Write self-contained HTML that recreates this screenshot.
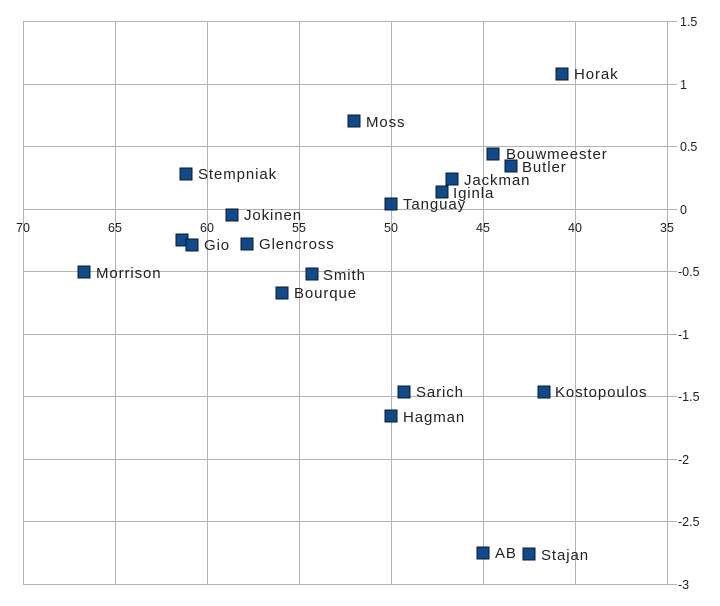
<!DOCTYPE html>
<html><head><meta charset="utf-8"><style>
html,body{margin:0;padding:0;background:#fff;}
svg{display:block;font-family:"Liberation Sans",sans-serif;}
.l{font-size:15px;fill:#222;letter-spacing:0.9px;}
.t{font-size:12.5px;fill:#222;}
</style></head><body>
<svg width="720" height="606" viewBox="0 0 720 606">
<g stroke="#b3b3b3" stroke-width="1" fill="none">
<line x1="23" y1="21.5" x2="677" y2="21.5"/>
<line x1="23" y1="84.5" x2="677" y2="84.5"/>
<line x1="23" y1="146.5" x2="677" y2="146.5"/>
<line x1="23" y1="209.5" x2="677" y2="209.5"/>
<line x1="23" y1="271.5" x2="677" y2="271.5"/>
<line x1="23" y1="334.5" x2="677" y2="334.5"/>
<line x1="23" y1="396.5" x2="677" y2="396.5"/>
<line x1="23" y1="459.5" x2="677" y2="459.5"/>
<line x1="23" y1="521.5" x2="677" y2="521.5"/>
<line x1="23" y1="584.5" x2="677" y2="584.5"/>
<line x1="23.5" y1="21" x2="23.5" y2="585"/>
<line x1="115.5" y1="21" x2="115.5" y2="585"/>
<line x1="207.5" y1="21" x2="207.5" y2="585"/>
<line x1="299.5" y1="21" x2="299.5" y2="585"/>
<line x1="391.5" y1="21" x2="391.5" y2="585"/>
<line x1="483.5" y1="21" x2="483.5" y2="585"/>
<line x1="575.5" y1="21" x2="575.5" y2="585"/>
<line x1="667.5" y1="21" x2="667.5" y2="585"/>
</g>
<g class="t">
<text x="680" y="26">1.5</text>
<text x="680" y="89">1</text>
<text x="680" y="151">0.5</text>
<text x="680" y="214">0</text>
<text x="678" y="276">-0.5</text>
<text x="678" y="339">-1</text>
<text x="678" y="401">-1.5</text>
<text x="678" y="464">-2</text>
<text x="678" y="526">-2.5</text>
<text x="678" y="589">-3</text>
</g>
<g class="t" text-anchor="middle">
<text x="23" y="232">70</text>
<text x="115" y="232">65</text>
<text x="207" y="232">60</text>
<text x="299" y="232">55</text>
<text x="391" y="232">50</text>
<text x="483" y="232">45</text>
<text x="575" y="232">40</text>
<text x="667" y="232">35</text>
</g>
<g fill="#0e4a8c" stroke="#0a1a30" stroke-width="1">
<rect x="556" y="68" width="12" height="12"/>
<rect x="348" y="115" width="12" height="12"/>
<rect x="487" y="148" width="12" height="12"/>
<rect x="505" y="160" width="12" height="12"/>
<rect x="446" y="173" width="12" height="12"/>
<rect x="436" y="186" width="12" height="12"/>
<rect x="180" y="168" width="12" height="12"/>
<rect x="385" y="198" width="12" height="12"/>
<rect x="226" y="209" width="12" height="12"/>
<rect x="176" y="234" width="12" height="12"/>
<rect x="186" y="239" width="12" height="12"/>
<rect x="241" y="238" width="12" height="12"/>
<rect x="78" y="266" width="12" height="12"/>
<rect x="306" y="268" width="12" height="12"/>
<rect x="276" y="287" width="12" height="12"/>
<rect x="398" y="386" width="12" height="12"/>
<rect x="538" y="386" width="12" height="12"/>
<rect x="385" y="410" width="12" height="12"/>
<rect x="477" y="547" width="12" height="12"/>
<rect x="523" y="548" width="12" height="12"/>
</g>
<g class="l">
<text x="574" y="79">Horak</text>
<text x="366" y="127">Moss</text>
<text x="506" y="159">Bouwmeester</text>
<text x="522" y="172">Butler</text>
<text x="464" y="185">Jackman</text>
<text x="453" y="198">Iginla</text>
<text x="198" y="179">Stempniak</text>
<text x="403" y="209">Tanguay</text>
<text x="244" y="220">Jokinen</text>
<text x="204" y="250">Gio</text>
<text x="259" y="249">Glencross</text>
<text x="96" y="278">Morrison</text>
<text x="323" y="280">Smith</text>
<text x="294" y="298">Bourque</text>
<text x="416" y="397">Sarich</text>
<text x="555" y="397">Kostopoulos</text>
<text x="403" y="422">Hagman</text>
<text x="495" y="558">AB</text>
<text x="541" y="560">Stajan</text>
</g>
</svg>
</body></html>
